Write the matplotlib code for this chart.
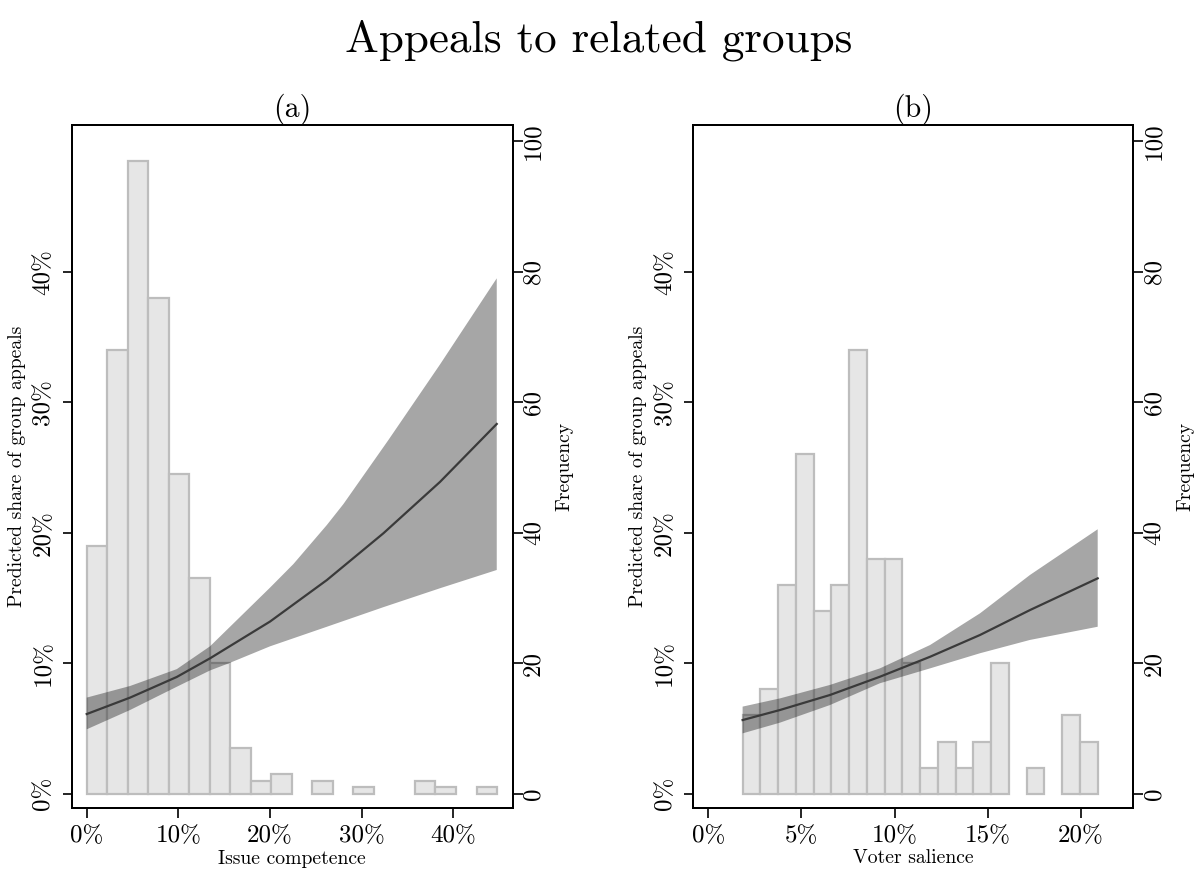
import numpy as np
import matplotlib
matplotlib.use("Agg")
import matplotlib.pyplot as plt

plt.rcParams['font.family'] = ['cmr10', 'DejaVu Serif']
plt.rcParams['mathtext.fontset'] = 'cm'
plt.rcParams['axes.formatter.use_mathtext'] = True

# ---------------- data ----------------
title = "Appeals to related groups"
panel_titles = ["(a)", "(b)"]
x_labels = ["Issue competence", "Voter salience"]
y_label_left = "Predicted share of group appeals"
y_label_right = "Frequency"

# Panel (a): histogram of issue competence (percent), 20 bins
a_bin_start = 0.0
a_bin_width = 2.238
a_counts = [38, 68, 97, 76, 49, 33, 20, 7, 2, 3, 0, 2, 0, 1, 0, 0, 2, 1, 0, 1]
# predicted share (percent) and 95% CI bounds
a_fit_x = [0.0, 4.73, 9.82, 13.45, 20.0, 26.2, 32.36, 38.54, 44.73]
a_fit = [6.11, 7.37, 8.95, 10.38, 13.2, 16.38, 19.96, 23.9, 28.34]
a_up_x = [0.0, 4.73, 9.82, 13.45, 17.09, 20.0, 22.54, 26.2, 28.0, 32.9, 38.54, 44.73]
a_upper = [7.37, 8.26, 9.55, 11.3, 13.8, 15.8, 17.6, 20.6, 22.2, 27.1, 32.9, 39.5]
a_lo_x = [0.0, 4.73, 9.82, 13.45, 15.5, 20.0, 26.2, 32.36, 38.54, 44.73]
a_lower = [4.94, 6.42, 8.2, 9.45, 10.0, 11.3, 12.8, 14.3, 15.75, 17.15]
a_xticks = [0, 10, 20, 30, 40]
a_xticklabels = ["0%", "10%", "20%", "30%", "40%"]

# Panel (b): histogram of voter salience (percent), 20 bins
b_bin_start = 1.845
b_bin_width = 0.952
b_counts = [12, 16, 32, 52, 28, 32, 68, 36, 36, 20, 4, 8, 4, 8, 20, 0, 4, 0, 12, 8]
b_fit_x = [1.845, 3.85, 6.53, 9.21, 11.9, 14.58, 17.26, 20.89]
b_fit = [5.65, 6.42, 7.57, 8.97, 10.5, 12.17, 14.08, 16.51]
b_up_x = b_fit_x
b_upper = [6.68, 7.31, 8.34, 9.61, 11.4, 13.83, 16.77, 20.27]
b_lo_x = b_fit_x
b_lower = [4.63, 5.45, 6.8, 8.47, 9.61, 10.77, 11.79, 12.8]
b_xticks = [0, 5, 10, 15, 20]
b_xticklabels = ["0%", "5%", "10%", "15%", "20%"]

pct_ticks = [0, 10, 20, 30, 40]
pct_ticklabels = ["0%", "10%", "20%", "30%", "40%"]
freq_ticks = [0, 20, 40, 60, 80, 100]
freq_ticklabels = ["0", "20", "40", "60", "80", "100"]

# ---------------- figure ----------------
W, H = 1197, 871
fig = plt.figure(figsize=(W / 100, H / 100), dpi=100)

def px_rect(x0, x1, y_top, y_bot):
    return [x0 / W, 1 - y_bot / H, (x1 - x0) / W, (y_bot - y_top) / H]

panels = [
    dict(rect=px_rect(71.7, 512.7, 125, 808), start=a_bin_start, width=a_bin_width,
         counts=a_counts, fx=a_fit_x, fit=a_fit, ux=a_up_x, up=a_upper,
         lx=a_lo_x, lo=a_lower,
         xlim=(-1.64, 46.47), xt=a_xticks, xtl=a_xticklabels),
    dict(rect=px_rect(693.3, 1133.3, 125, 808), start=b_bin_start, width=b_bin_width,
         counts=b_counts, fx=b_fit_x, fit=b_fit, ux=b_up_x, up=b_upper,
         lx=b_lo_x, lo=b_lower,
         xlim=(-0.80, 22.8), xt=b_xticks, xtl=b_xticklabels),
]

freq_lim = (-2.18, 102.5)
tick_fs = 18
label_fs = 14.2

for i, p in enumerate(panels):
    ax = fig.add_axes(p['rect'])
    ax2 = ax.twinx()

    # histogram (frequency, right axis)
    counts = np.asarray(p['counts'])
    lefts = p['start'] + p['width'] * np.arange(len(counts))
    keep = counts > 0
    ax.bar(lefts[keep], counts[keep], width=p['width'], align='edge',
           facecolor='#e6e6e6', edgecolor='#bdbdbd', linewidth=1.6, zorder=1)
    ax.set_ylim(*freq_lim)
    ax.set_xlim(*p['xlim'])
    ax.yaxis.tick_right()
    ax.yaxis.set_label_position('right')
    ax.set_yticks(freq_ticks)
    ax.set_yticklabels(freq_ticklabels, rotation=90, va='center')
    ax.set_ylabel(y_label_right, fontsize=label_fs, labelpad=8)
    ax.set_xticks(p['xt'])
    ax.set_xticklabels(p['xtl'])
    ax.set_xlabel(x_labels[i], fontsize=label_fs, labelpad=2)
    ax.tick_params(axis='both', direction='out', length=7, width=1.2,
                   labelsize=tick_fs, color='black')
    ax.tick_params(axis='y', pad=0)
    ax.tick_params(axis='x', pad=5)

    # predicted share (percent, left axis)
    ax2.yaxis.tick_left()
    ax2.yaxis.set_label_position('left')
    ax2.set_ylim(freq_lim[0] / 2, freq_lim[1] / 2)
    band_x = np.concatenate([p['ux'], p['lx'][::-1]])
    band_y = np.concatenate([p['up'], p['lo'][::-1]])
    ax2.fill(band_x, band_y, facecolor='black', alpha=0.35, linewidth=0, zorder=2)
    ax2.plot(p['fx'], p['fit'], color='#3a3a3a', linewidth=1.6, zorder=3,
             solid_joinstyle='round')
    ax2.set_yticks(pct_ticks)
    ax2.set_yticklabels(pct_ticklabels, rotation=90, va='center')
    ax2.set_ylabel(y_label_left, fontsize=label_fs, labelpad=5)
    ax2.tick_params(axis='y', direction='out', length=6.3, width=1.2,
                    labelsize=tick_fs, pad=6)
    for s in list(ax.spines.values()) + list(ax2.spines.values()):
        s.set_linewidth(1.4)
    ax2.set_title(panel_titles[i], fontsize=21.5, pad=6)

fig.text(0.5, 1 - 40 / H, title, ha='center', va='center', fontsize=32.5)

fig.savefig("out.png", dpi=100)
